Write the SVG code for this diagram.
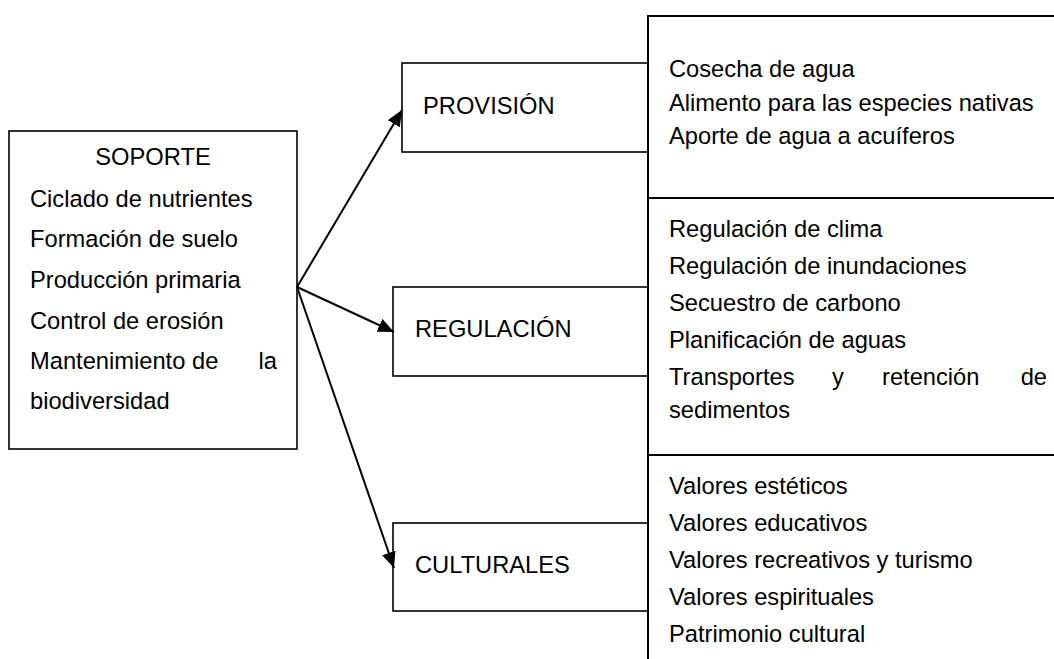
<svg xmlns="http://www.w3.org/2000/svg" width="1054" height="659" viewBox="0 0 1054 659">
<style>
text{font-family:"Liberation Sans",Arial,sans-serif;font-size:23.7px;fill:#000}
.box{fill:#fff;stroke:#000;stroke-width:1.6}
.rb{fill:none;stroke:#000;stroke-width:2}
.conn{stroke:#000;stroke-width:2;fill:none}
</style>
<defs>
<marker id="ah" markerUnits="userSpaceOnUse" markerWidth="18" markerHeight="14" refX="16" refY="7" orient="auto">
<path d="M0,0 L16,7 L0,14 Z" fill="#000"/>
</marker>
</defs>
<rect width="1054" height="659" fill="#fff"/>
<g id="soporte">
<rect class="box" x="9" y="131" width="288" height="318"/>
<text x="153" y="165" text-anchor="middle">SOPORTE</text>
<text x="30" y="207">Ciclado de nutrientes</text>
<text x="30" y="247">Formación de suelo</text>
<text x="30" y="288">Producción primaria</text>
<text x="30" y="329">Control de erosión</text>
<text x="30" y="369">Mantenimiento</text>
<text x="192" y="369">de</text>
<text x="277" y="369" text-anchor="end">la</text>
<text x="30" y="409">biodiversidad</text>
</g>
<g id="provision">
<rect class="box" x="402" y="63" width="246" height="89"/>
<text x="423" y="114">PROVISIÓN</text>
</g>
<g id="regulacion">
<rect class="box" x="393" y="287" width="255" height="89"/>
<text x="415" y="337">REGULACIÓN</text>
</g>
<g id="culturales">
<rect class="box" x="393" y="523" width="255" height="88"/>
<text x="415" y="573">CULTURALES</text>
</g>
<g id="servicios">
<path class="rb" d="M648,659 V16 H1054 M648,198 H1054 M648,455 H1054"/>
<text x="669" y="77">Cosecha de agua</text>
<text x="669" y="111">Alimento para las especies nativas</text>
<text x="669" y="144">Aporte de agua a acuíferos</text>
<text x="669" y="237">Regulación de clima</text>
<text x="669" y="274">Regulación de inundaciones</text>
<text x="669" y="311">Secuestro de carbono</text>
<text x="669" y="348">Planificación de aguas</text>
<text x="669" y="385">Transportes</text>
<text x="832" y="385">y</text>
<text x="882" y="385">retención</text>
<text x="1047" y="385" text-anchor="end">de</text>
<text x="669" y="418">sedimentos</text>
<text x="669" y="494">Valores estéticos</text>
<text x="669" y="531">Valores educativos</text>
<text x="669" y="568">Valores recreativos y turismo</text>
<text x="669" y="605">Valores espirituales</text>
<text x="669" y="642">Patrimonio cultural</text>
</g>
<g id="connectors">
<line class="conn" x1="297" y1="287" x2="402" y2="110" marker-end="url(#ah)"/>
<line class="conn" x1="297" y1="287" x2="394" y2="332" marker-end="url(#ah)"/>
<line class="conn" x1="297" y1="287" x2="394" y2="568" marker-end="url(#ah)"/>
</g>
</svg>
